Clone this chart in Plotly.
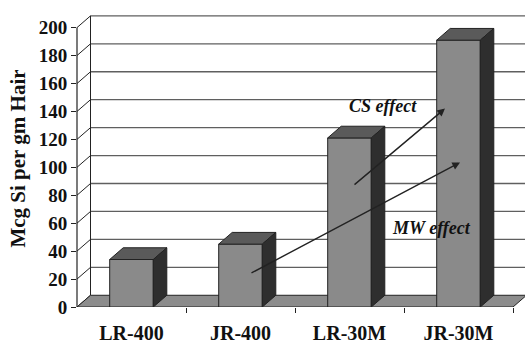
import plotly.graph_objects as go

# Silicon uptake per sample
categories = ["LR-400", "JR-400", "LR-30M", "JR-30M"]
si_values = [34, 45, 121, 191]
y_ticks = [0, 20, 40, 60, 80, 100, 120, 140, 160, 180, 200]

# Canvas and 3-D projection settings
W, H = 525, 344
ML, MR, MT, MB = 77, 0, 10, 30
plot_w = W - ML - MR
plot_h = H - MT - MB
PX_PER_CAT = 109.0          # horizontal pixels per category slot
PX_PER_UNIT = 1.43          # vertical pixels per value unit
x_range = [-0.5, -0.5 + plot_w / PX_PER_CAT]
y_range = [0, plot_h / PX_PER_UNIT]
DX = 13.5 / PX_PER_CAT      # depth offset (x, in category units)
DY = 12.0 / PX_PER_UNIT     # depth offset (y, in value units)
BAR_W = 0.4
y_top = y_ticks[-1]
x_end = len(categories) - 0.5

FONT = "Liberation Serif"
DARK = "#222222"
FRONT = "#8a8a8a"
TOP = "#5a5a5a"
SIDE = "#2e2e2e"
FLOOR = "#8c8c8c"
GRID = "#5f5f5f"

fig = go.Figure()

# Front faces of the columns
fig.add_trace(go.Bar(
    x=list(range(len(categories))), y=si_values, width=BAR_W,
    marker=dict(color=FRONT, line=dict(color=DARK, width=1)),
    hoverinfo="skip", showlegend=False,
))

# Top and side faces for the extruded look
for i, v in enumerate(si_values):
    l, r = i - BAR_W / 2, i + BAR_W / 2
    fig.add_trace(go.Scatter(
        x=[l, r, r + DX, l + DX, l], y=[v, v, v + DY, v + DY, v],
        mode="lines", fill="toself", fillcolor=TOP,
        line=dict(color=DARK, width=1), hoverinfo="skip", showlegend=False,
    ))
    fig.add_trace(go.Scatter(
        x=[r, r + DX, r + DX, r, r], y=[0, DY, v + DY, v, 0],
        mode="lines", fill="toself", fillcolor=SIDE,
        line=dict(color=DARK, width=1), hoverinfo="skip", showlegend=False,
    ))

shapes = []
# Back wall gridlines
for t in y_ticks[1:]:
    shapes.append(dict(type="line", xref="x", yref="y", layer="below",
                       x0=-0.5 + DX, x1=x_range[1], y0=t + DY, y1=t + DY,
                       line=dict(color=GRID, width=1.3)))
# Back wall left edge
shapes.append(dict(type="line", xref="x", yref="y", layer="below",
                   x0=-0.5 + DX, x1=-0.5 + DX, y0=DY, y1=y_top + DY,
                   line=dict(color=DARK, width=1)))
# Side wall connectors from each tick to the back wall
for t in y_ticks:
    shapes.append(dict(type="line", xref="x", yref="y", layer="below",
                       x0=-0.5, x1=-0.5 + DX, y0=t, y1=t + DY,
                       line=dict(color=DARK, width=1)))
# Floor
shapes.append(dict(
    type="path", xref="x", yref="y", layer="below",
    path=(f"M {-0.5} 0 L {x_end} 0 L {x_end + DX} {DY} "
          f"L {-0.5 + DX} {DY} Z"),
    fillcolor=FLOOR, line=dict(color=DARK, width=1)))
# Front value axis
shapes.append(dict(type="line", xref="paper", yref="y", layer="above",
                   x0=0, x1=0, y0=0, y1=y_top,
                   line=dict(color=DARK, width=1.2)))

annotations = [
    dict(x=2.876, y=142, ax=2.032, ay=86.7, xref="x", yref="y",
         axref="x", ayref="y", showarrow=True, arrowhead=2, arrowsize=1.1,
         arrowwidth=1.4, arrowcolor=DARK, text=""),
    dict(x=3.014, y=103.5, ax=1.087, ay=23.8, xref="x", yref="y",
         axref="x", ayref="y", showarrow=True, arrowhead=2, arrowsize=1.1,
         arrowwidth=1.4, arrowcolor=DARK, text=""),
    dict(x=2.307, y=144, xref="x", yref="y", showarrow=False,
         text="<b><i>CS effect</i></b>",
         font=dict(family=FONT, size=18, color="#111")),
    dict(x=2.748, y=56.6, xref="x", yref="y", showarrow=False,
         text="<b><i>MW effect</i></b>",
         font=dict(family=FONT, size=18, color="#111")),
]

fig.update_layout(
    width=W, height=H,
    margin=dict(l=ML, r=MR, t=MT, b=MB, pad=0),
    paper_bgcolor="white", plot_bgcolor="white",
    shapes=shapes, annotations=annotations,
    xaxis=dict(
        range=x_range, showgrid=False, zeroline=False, showline=False,
        tickmode="array", tickvals=list(range(len(categories))),
        ticktext=categories, ticks="",
        tickfont=dict(family=FONT, size=20, color="#111", weight="bold"),
        ticklabelstandoff=12,
        minor=dict(tickvals=[i + 0.5 for i in range(len(categories))],
                   ticks="outside", ticklen=5, tickwidth=1, tickcolor=DARK,
                   showgrid=False),
    ),
    yaxis=dict(
        range=y_range, showgrid=False, zeroline=False, showline=False,
        tickmode="array", tickvals=y_ticks, ticks="outside", ticklen=5,
        tickwidth=1, tickcolor=DARK,
        tickfont=dict(family=FONT, size=19, color="#111", weight="bold"),
        title=dict(text="Mcg Si per gm Hair",
                   font=dict(family=FONT, size=21, color="#111",
                             weight="bold"),
                   standoff=7),
    ),
)

fig.write_html("out.html")
